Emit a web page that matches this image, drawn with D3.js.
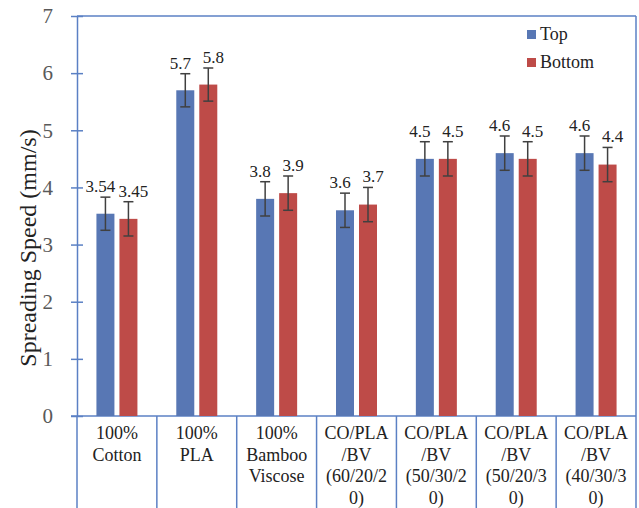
<html>
<head>
<style>
  body { margin: 0; background: white; }
  svg { display: block; }
</style>
<script src="https://cdn.jsdelivr.net/npm/d3@7"></script>
</head>
<body>
<svg width="639" height="508" font-family="Liberation Serif"><text x="-200" y="-200" font-family="Liberation Serif" font-size="17">0</text></svg>
<script>
  // data
  const categories = [
    ["100%", "Cotton"],
    ["100%", "PLA"],
    ["100%", "Bamboo", "Viscose"],
    ["CO/PLA", "/BV", "(60/20/2", "0)"],
    ["CO/PLA", "/BV", "(50/30/2", "0)"],
    ["CO/PLA", "/BV", "(50/20/3", "0)"],
    ["CO/PLA", "/BV", "(40/30/3", "0)"]
  ];
  const topValues    = [3.54, 5.7, 3.8, 3.6, 4.5, 4.6, 4.6];
  const bottomValues = [3.45, 5.8, 3.9, 3.7, 4.5, 4.5, 4.4];
  const topLabels    = ["3.54", "5.7", "3.8", "3.6", "4.5", "4.6", "4.6"];
  const bottomLabels = ["3.45", "5.8", "3.9", "3.7", "4.5", "4.5", "4.4"];
  const topErr    = [0.29, 0.29, 0.3, 0.3, 0.3, 0.3, 0.3];
  const bottomErr = [0.3, 0.29, 0.3, 0.3, 0.3, 0.3, 0.3];
  const yTicks = [0, 1, 2, 3, 4, 5, 6, 7];
  const seriesNames = ["Top", "Bottom"];

  const blue = "#5877b4", red = "#be4b48", frame = "#5b80c4";
  const font = "Liberation Serif";

  const svg = d3.select("svg");
  const mLeft = 77, mRight = 636, mTop = 16, mBottom = 416;

  const x = d3.scaleBand().domain(d3.range(categories.length)).range([mLeft, mRight]);
  const y = d3.scaleLinear().domain([0, 7]).range([mBottom, mTop]);

  // frame: top line and right line
  svg.append("line").attr("x1", mLeft).attr("x2", mRight).attr("y1", mTop).attr("y2", mTop)
    .attr("stroke", frame).attr("stroke-width", 1.5);
  svg.append("line").attr("x1", mRight).attr("x2", mRight).attr("y1", mTop).attr("y2", 508)
    .attr("stroke", frame).attr("stroke-width", 1.5);

  // y axis
  const yAxis = svg.append("g").attr("transform", `translate(${mLeft},0)`)
    .call(d3.axisLeft(y).tickValues(yTicks).tickFormat(d3.format("d"))
      .tickSize(6).tickSizeOuter(0).tickPadding(18));
  yAxis.attr("font-family", font);
  yAxis.select(".domain").attr("stroke", frame).attr("stroke-width", 1.5);
  yAxis.selectAll(".tick line").attr("stroke", frame).attr("stroke-width", 1.5).attr("x2", 6).attr("x1", -6);
  yAxis.selectAll(".tick text").attr("fill", "#595959").attr("font-size", 21);

  // x axis line, extends a bit left
  svg.append("line").attr("x1", mLeft - 6).attr("x2", mRight).attr("y1", mBottom).attr("y2", mBottom)
    .attr("stroke", frame).attr("stroke-width", 1.5);
  svg.append("line").attr("x1", mLeft).attr("x2", mLeft).attr("y1", mBottom).attr("y2", 508)
    .attr("stroke", frame).attr("stroke-width", 1.5);

  // category separators
  svg.selectAll(".sep").data(d3.range(1, categories.length)).join("line")
    .attr("x1", d => x(d)).attr("x2", d => x(d)).attr("y1", mBottom).attr("y2", 508)
    .attr("stroke", frame).attr("stroke-width", 1.5);

  // category labels
  svg.selectAll(".cat").data(categories).join("text")
    .attr("class", "cat")
    .attr("text-anchor", "middle")
    .attr("font-size", 18).attr("fill", "#222")
    .each(function(lines, i) {
      d3.select(this).selectAll("tspan").data(lines).join("tspan")
        .attr("x", x(i) + x.bandwidth() / 2)
        .attr("y", (d, j) => 439 + j * 21.5)
        .text(d => d);
    });

  const barW = 18, gap = 5;
  const series = [
    { vals: topValues, err: topErr, labels: topLabels, color: blue, off: -gap / 2 - barW, lab: -5 },
    { vals: bottomValues, err: bottomErr, labels: bottomLabels, color: red, off: gap / 2, lab: 5 }
  ];

  series.forEach(s => {
    const g = svg.append("g");
    const cx = i => x(i) + x.bandwidth() / 2 + s.off + barW / 2;
    g.selectAll("rect").data(s.vals).join("rect")
      .attr("x", (d, i) => cx(i) - barW / 2)
      .attr("width", barW)
      .attr("y", d => y(d))
      .attr("height", d => y(0) - y(d))
      .attr("fill", s.color);
    // error bars
    s.vals.forEach((v, i) => {
      const e = s.err[i];
      const c = cx(i);
      g.append("line").attr("x1", c).attr("x2", c).attr("y1", y(v + e)).attr("y2", y(v - e))
        .attr("stroke", "#404040").attr("stroke-width", 1.5);
      [v + e, v - e].forEach(t => {
        g.append("line").attr("x1", c - 5).attr("x2", c + 5).attr("y1", y(t)).attr("y2", y(t))
          .attr("stroke", "#404040").attr("stroke-width", 1.5);
      });
      g.append("text")
        .attr("x", c + s.lab).attr("y", y(v + e) - 5)
        .attr("text-anchor", "middle")
        .attr("font-size", 17).attr("fill", "#222")
        .text(s.labels[i]);
    });
  });

  // legend
  const legend = svg.append("g").attr("transform", "translate(527,30)");
  seriesNames.forEach((n, i) => {
    legend.append("rect").attr("x", 0).attr("y", i * 28).attr("width", 9).attr("height", 9)
      .attr("fill", i === 0 ? blue : red);
    legend.append("text").attr("x", 13).attr("y", i * 28 + 10)
      .attr("font-size", 18).attr("fill", "#222").text(n);
  });

  // y axis title
  svg.append("text")
    .attr("transform", `translate(36,${(mTop + mBottom) / 2 + 32}) rotate(-90)`)
    .attr("text-anchor", "middle")
    .attr("font-size", 24).attr("fill", "#222")
    .text("Spreading Speed (mm/s)");

  svg.selectAll("text").attr("font-family", font);
</script>
</body>
</html>
